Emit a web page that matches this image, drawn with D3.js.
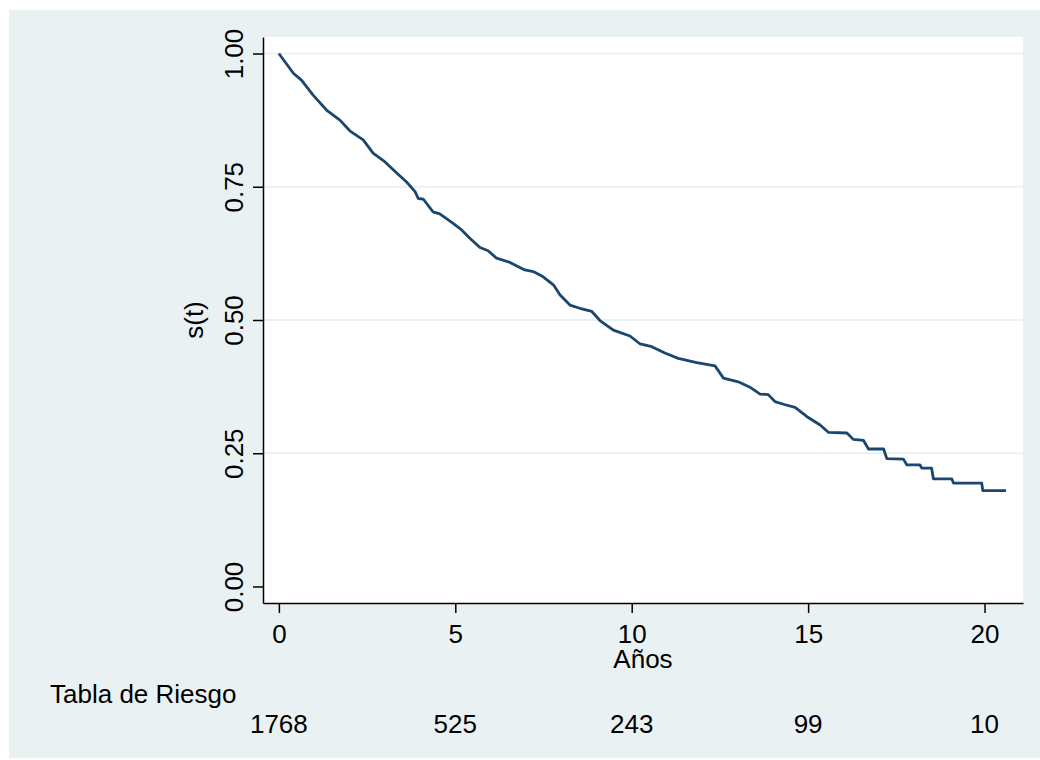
<!DOCTYPE html>
<html>
<head>
<meta charset="utf-8">
<script src="https://cdn.jsdelivr.net/npm/d3@7"></script>
<style>
  body { margin: 0; background: #fff; }
  text { font-family: "Liberation Sans", Arial, sans-serif; fill: #000; }
</style>
</head>
<body>
<div id="chart"></div>
<script>
// Kaplan-Meier estimate (years, s(t))
var kmTime = [0, 0.41, 0.64, 0.97, 1.35, 1.73, 2.01, 2.39, 2.67, 3.0, 3.34, 3.62, 3.86, 3.95, 4.09,
  4.37, 4.56, 4.90, 5.18, 5.42, 5.70, 5.93, 6.17, 6.55, 6.97, 7.21, 7.49, 7.78, 7.97, 8.25, 8.53,
  8.87, 9.10, 9.48, 9.95, 10.24, 10.57, 10.94, 11.32, 11.84, 12.36, 12.60, 13.02, 13.35, 13.64,
  13.87, 14.06, 14.35, 14.63, 14.96, 15.34, 15.58, 16.10, 16.28, 16.57, 16.71, 17.14, 17.23,
  17.70, 17.80, 18.17, 18.22, 18.50, 18.55, 19.07, 19.12, 19.92, 19.95, 20.61];
var kmSurv = [1.0, 0.963, 0.950, 0.922, 0.894, 0.875, 0.855, 0.838, 0.813, 0.797, 0.776, 0.759, 0.741, 0.728, 0.727,
  0.703, 0.699, 0.683, 0.669, 0.653, 0.636, 0.630, 0.616, 0.608, 0.594, 0.591, 0.581, 0.566, 0.547, 0.528, 0.522,
  0.516, 0.499, 0.481, 0.470, 0.455, 0.450, 0.438, 0.428, 0.420, 0.414, 0.391, 0.384, 0.374, 0.361,
  0.360, 0.347, 0.341, 0.336, 0.319, 0.303, 0.289, 0.288, 0.276, 0.274, 0.258, 0.258, 0.240,
  0.239, 0.228, 0.228, 0.222, 0.222, 0.202, 0.202, 0.194, 0.194, 0.180, 0.180];

// tick values and risk table
var xTicks = [0, 5, 10, 15, 20];
var yTicks = [0, 0.25, 0.5, 0.75, 1];
var yGrid = [0.25, 0.5, 0.75, 1];
var atRisk = [1768, 525, 243, 99, 10];

var W = 1040, H = 760;
var plot = {left: 263, right: 1023, top: 37, bottom: 603};
var fontSize = "26px";

var svg = d3.select("#chart")
  .append("svg")
    .attr("width", W)
    .attr("height", H);

// graph region
svg.append("rect")
  .attr("x", 9).attr("y", 10)
  .attr("width", W - 9).attr("height", H - 12)
  .attr("fill", "#eaf1f3");

// plot region
svg.append("rect")
  .attr("x", plot.left).attr("y", plot.top)
  .attr("width", plot.right - plot.left).attr("height", plot.bottom - plot.top)
  .attr("fill", "#fff");

var x = d3.scaleLinear()
  .domain([-0.45, 21.09])
  .range([plot.left, plot.right]);

var y = d3.scaleLinear()
  .domain([-0.031, 1.031])
  .range([plot.bottom, plot.top]);

// grid lines
svg.append("g")
  .selectAll("line")
  .data(yGrid)
  .enter()
  .append("line")
    .attr("x1", plot.left).attr("x2", plot.right)
    .attr("y1", function(d) { return y(d); })
    .attr("y2", function(d) { return y(d); })
    .attr("stroke", "#eaf1f3")
    .attr("stroke-width", 2);

// survival curve
var pts = kmTime.map(function(t, i) { return [t, kmSurv[i]]; });
svg.append("path")
  .datum(pts)
  .attr("fill", "none")
  .attr("stroke", "#1a476f")
  .attr("stroke-width", 2.8)
  .attr("stroke-linejoin", "round")
  .attr("d", d3.line()
    .x(function(d) { return x(d[0]); })
    .y(function(d) { return y(d[1]); }));

// y axis
var yAxis = svg.append("g")
  .attr("transform", "translate(" + plot.left + ",0)")
  .call(d3.axisLeft(y).tickValues(yTicks).tickFormat(d3.format(".2f")).tickSize(10).tickSizeOuter(0));
yAxis.selectAll("text")
  .attr("x", null).attr("dy", null)
  .attr("text-anchor", "middle")
  .attr("transform", "translate(-20,0) rotate(-90)")
  .style("font-size", fontSize);

// x axis
var xAxis = svg.append("g")
  .attr("transform", "translate(0," + plot.bottom + ")")
  .call(d3.axisBottom(x).tickValues(xTicks).tickSize(10).tickSizeOuter(0));
xAxis.selectAll("text")
  .attr("y", 40).attr("dy", null)
  .style("font-size", fontSize);

svg.selectAll(".domain, .tick line")
  .attr("stroke", "#000")
  .attr("stroke-width", 1.5);
svg.selectAll(".tick text").attr("fill", "#000").attr("font-family", null);

// axis titles
svg.append("text")
  .attr("x", (plot.left + plot.right) / 2)
  .attr("y", 668)
  .attr("text-anchor", "middle")
  .style("font-size", fontSize)
  .text("Años");

svg.append("text")
  .attr("transform", "translate(203," + ((plot.top + plot.bottom) / 2) + ") rotate(-90)")
  .attr("text-anchor", "middle")
  .style("font-size", fontSize)
  .text("s(t)");

// risk table
svg.append("text")
  .attr("x", 50)
  .attr("y", 703)
  .style("font-size", fontSize)
  .text("Tabla de Riesgo");

svg.append("g")
  .selectAll("text")
  .data(atRisk)
  .enter()
  .append("text")
    .attr("x", function(d, i) { return x(xTicks[i]); })
    .attr("y", 733)
    .attr("text-anchor", "middle")
    .style("font-size", fontSize)
    .text(function(d) { return d; });
</script>
</body>
</html>
